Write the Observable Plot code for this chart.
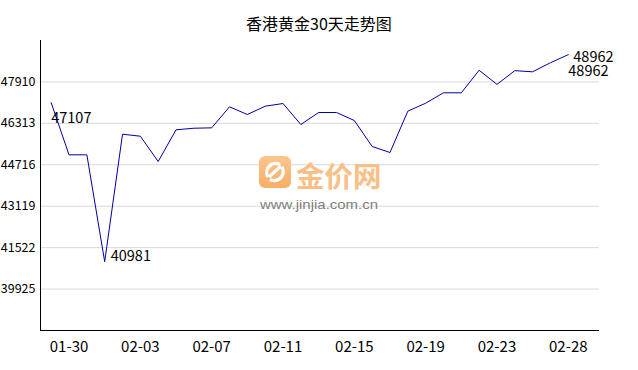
<!DOCTYPE html>
<html><head><meta charset="utf-8">
<script src="https://cdn.jsdelivr.net/npm/d3@7"></script>
<script src="https://cdn.jsdelivr.net/npm/@observablehq/plot@0.6"></script>
<style>
body{margin:0;background:#fff;}
#wrap{position:relative;width:638px;height:370px;font-family:"Noto Sans CJK SC","Noto Sans",sans-serif;}
#title{position:absolute;left:0;top:12px;width:638px;text-align:center;font-size:16px;color:#000;line-height:22px;}
#chart{position:absolute;left:0;top:0;}
#wm{position:absolute;left:259px;top:156px;}
#wm svg{overflow:visible;}
</style></head><body>
<div id="wrap">
<div id="chart"></div>
<div id="title">香港黄金30天走势图</div>
<div id="wm"><svg width="132" height="60" viewBox="0 0 132 60">
<defs><linearGradient id="g" x1="0" y1="0" x2="0" y2="1"><stop offset="0" stop-color="#FBC68E"/><stop offset="1" stop-color="#F6AE66"/></linearGradient></defs>
<rect x="0" y="0" width="32" height="32" rx="6" fill="url(#g)"/>
<path d="M9 21 A9 9 0 0 1 21 8.5" fill="none" stroke="#fff" stroke-width="3.4"/>
<path d="M23 11 A9 9 0 0 1 11 23.5" fill="none" stroke="#fff" stroke-width="3.4"/>
<path d="M10 21 L22 10" fill="none" stroke="#fff" stroke-width="3.2"/>
<text x="37" y="31" font-size="28.5" font-weight="bold" fill="#F8BF86" font-family="Noto Sans CJK SC">金价网</text>
<text x="1" y="53" style="font-family:'Liberation Sans',Arial,sans-serif;font-size:13px;fill:#7f7f7f" textLength="118" lengthAdjust="spacingAndGlyphs">www.jinjia.com.cn</text>
</svg></div>
</div>
<script>
const dates = ["01-29","01-30","01-31","02-01","02-02","02-03","02-04","02-05","02-06","02-07",
  "02-08","02-09","02-10","02-11","02-12","02-13","02-14","02-15","02-16","02-17",
  "02-18","02-19","02-20","02-21","02-22","02-23","02-24","02-25","02-27","02-28"];
const prices = [47107,45100,45100,40981,45895,45818,44842,46064,46125,46140,
  46951,46654,46974,47078,46269,46731,46731,46423,45421,45189,
  46782,47090,47491,47491,48360,47815,48345,48300,48650,48962];
const xTickLabels = ["01-30","02-03","02-07","02-11","02-15","02-19","02-23","02-28"];
const yTicks = [39925,41522,43119,44716,46313,47910];
const yDomain = [38328, 49507];
const xDomain = [-0.6, 30.75];

const data = dates.map((d,i)=>({i, date:d, price:prices[i]}));
const xTicks = data.filter(d=>xTickLabels.includes(d.date)).map(d=>d.i);
const minI = d3.minIndex(prices), maxI = d3.maxIndex(prices);
const font = '"Noto Sans CJK SC","Noto Sans",sans-serif';

const chart = Plot.plot({
  width:638, height:370, marginTop:40, marginBottom:40, marginLeft:40, marginRight:39,
  style:{fontFamily:font, background:"transparent", color:"#000", overflow:"visible"},
  x:{type:"linear", domain:xDomain, axis:null},
  y:{domain:yDomain, axis:null},
  marks:[
    Plot.gridY(yTicks,{stroke:"#d9d9d9", strokeOpacity:1}),
    Plot.axisY(yTicks,{tickSize:0, tickPadding:5, fontSize:12.5, label:null, tickFormat:d=>String(d)}),
    Plot.axisX(xTicks,{tickSize:0, tickPadding:10.5, fontSize:15, label:null, tickFormat:i=>dates[i]}),
    Plot.ruleX([xDomain[0]],{stroke:"#000", strokeWidth:1}),
    Plot.ruleY([yDomain[0]],{stroke:"#000", strokeWidth:1}),
    Plot.line(data,{x:"i", y:"price", stroke:"#0000a0", strokeWidth:1}),
    Plot.text([data[0]],{x:"i", y:"price", text:d=>String(d.price), textAnchor:"start", dx:0, dy:16, fontSize:14.5, fill:"#000"}),
    Plot.text([data[data.length-1]],{x:"i", y:"price", text:d=>String(d.price), textAnchor:"start", dx:0, dy:17, fontSize:14.5, fill:"#000"}),
    Plot.text([data[maxI]],{x:"i", y:"price", text:d=>String(d.price), textAnchor:"start", dx:5, dy:3, fontSize:14.5, fill:"#000"}),
    Plot.text([data[minI]],{x:"i", y:"price", text:d=>String(d.price), textAnchor:"start", dx:6, dy:-5, fontSize:14.5, fill:"#000"})
  ]
});
document.getElementById("chart").appendChild(chart);
</script>
</body></html>
